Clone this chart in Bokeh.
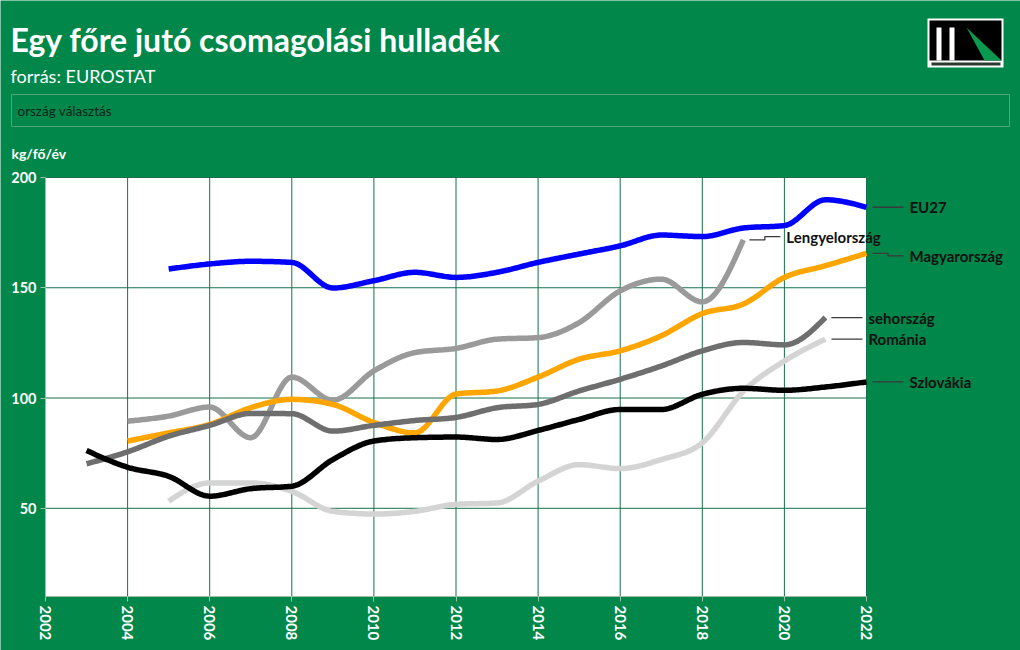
import numpy as np
from bokeh.plotting import figure
from bokeh.models import Range1d, FixedTicker
from bokeh.core.properties import value
from bokeh.embed import file_html
from bokeh.resources import INLINE

# ---------------- data ----------------
years_eu = list(range(2005, 2023))
eu27 = [158.5, 160.8, 162.0, 161.5, 149.9, 153.2, 157.0, 154.7, 157.0, 161.5, 165.3, 169.0, 173.9, 173.2, 177.1, 178.2, 189.9, 186.5]

years_pl = list(range(2004, 2020))
poland = [89.5, 91.8, 95.9, 82.0, 109.5, 99.0, 112.3, 120.6, 122.5, 126.7, 127.4, 134.2, 148.6, 153.9, 143.6, 171.7]

years_hu = list(range(2004, 2023))
hungary = [80.5, 84.2, 88.0, 95.6, 99.4, 97.1, 88.9, 84.2, 101.8, 103.2, 109.5, 117.6, 121.4, 128.2, 138.3, 142.6, 154.7, 160.0, 165.6]

years_cz = list(range(2003, 2022))
czechia = [70.2, 75.6, 82.7, 87.6, 93.0, 92.9, 85.0, 87.6, 89.8, 91.2, 95.6, 97.1, 103.2, 108.5, 114.5, 121.4, 125.2, 124.1, 136.5]

years_ro = list(range(2005, 2022))
romania = [53.2, 61.5, 61.5, 57.7, 48.6, 47.4, 48.6, 51.8, 52.4, 62.3, 69.8, 68.0, 72.1, 79.7, 103.0, 116.8, 126.7]

years_sk = list(range(2003, 2023))
slovakia = [76.2, 68.6, 64.5, 55.5, 58.9, 60.0, 72.1, 80.5, 82.0, 82.3, 81.2, 85.3, 90.3, 94.8, 94.8, 101.7, 104.4, 103.5, 105.0, 107.3]

series_names = ["EU27", "Lengyelország", "Magyarország", "sehország", "Románia", "Szlovákia"]
x_ticks = list(range(2002, 2023, 2))
y_ticks = [50, 100, 150, 200]

title_text = "Egy főre jutó csomagolási hulladék"
subtitle_text = "forrás: EUROSTAT"
dropdown_text = "ország választás"
unit_text = "kg/fő/év"

# ---------------- styles ----------------
GREEN = "#01874a"
FONT = "Lato"
series_style = [
    (years_eu, eu27, "#0000ff"),
    (years_pl, poland, "#9a9a9a"),
    (years_hu, hungary, "#ffa500"),
    (years_cz, czechia, "#6e6e6e"),
    (years_ro, romania, "#d4d4d4"),
    (years_sk, slovakia, "#000000"),
]
label_nudge = {"Lengyelország": 1.5, "Magyarország": -1.1}


def monotone(xs, ys, n=24):
    xs = np.asarray(xs, float)
    ys = np.asarray(ys, float)
    h = np.diff(xs)
    s = np.diff(ys) / h
    m = np.zeros(len(xs))
    for i in range(1, len(xs) - 1):
        p_ = (s[i - 1] * h[i] + s[i] * h[i - 1]) / (h[i - 1] + h[i])
        m[i] = (np.sign(s[i - 1]) + np.sign(s[i])) * min(abs(s[i - 1]), abs(s[i]), 0.5 * abs(p_))
    m[0] = (3 * s[0] - m[1]) / 2
    m[-1] = (3 * s[-1] - m[-2]) / 2
    out_x, out_y = [], []
    for i in range(len(xs) - 1):
        t = np.linspace(0, 1, n, endpoint=(i == len(xs) - 2))
        h00 = 2 * t**3 - 3 * t**2 + 1
        h10 = t**3 - 2 * t**2 + t
        h01 = -2 * t**3 + 3 * t**2
        h11 = t**3 - t**2
        out_x.extend(xs[i] + t * h[i])
        out_y.extend(h00 * ys[i] + h10 * h[i] * m[i] + h01 * ys[i + 1] + h11 * h[i] * m[i + 1])
    return out_x, out_y


# ---------------- figure (frame covers the whole canvas) ----------------
W, H = 1020, 650
LEFT, TOP, BOTTOM_PX = 45, 177, 596
X0, X1 = 2002, 2022
Y0, Y1 = 10, 200
PXX = 821 / (X1 - X0)                 # px per year
PXY = (BOTTOM_PX - TOP) / (Y1 - Y0)   # px per unit


def cx(px):
    return X0 + (px - LEFT) / PXX


def cy(py):
    return Y1 - (py - TOP) / PXY


p = figure(width=W, height=H, x_range=Range1d(cx(0), cx(W)), y_range=Range1d(cy(H), cy(0)),
           toolbar_location=None, output_backend="svg", min_border=0,
           min_border_left=0, min_border_right=0, min_border_top=0, min_border_bottom=0)
p.grid.visible = False
p.outline_line_color = None
p.background_fill_color = GREEN
p.border_fill_color = GREEN

# plot area
p.quad(left=[X0], right=[X1], bottom=[Y0], top=[Y1], fill_color="white", line_color=None)
p.segment(x0=x_ticks, x1=x_ticks, y0=[Y0] * len(x_ticks), y1=[Y1] * len(x_ticks),
          line_color="#17704c", line_width=1)
p.segment(x0=[X0] * len(y_ticks), x1=[X1] * len(y_ticks), y0=y_ticks, y1=y_ticks,
          line_color="#17704c", line_width=1)

for (xs, ys, col) in series_style:
    sx, sy = monotone(xs, ys)
    p.line(sx, sy, line_color=col, line_width=5.5, line_cap="butt", line_join="round")

# end labels
gap = 6 / PXX
seg = 31 / PXX
for name, (xs, ys, col) in zip(series_names, series_style):
    xl, yl = xs[-1], ys[-1]
    ylab = yl + label_nudge.get(name, 0)
    xa = xl + gap
    xb = xa + seg
    xm = (xa + xb) / 2
    p.line([xa, xm, xm, xb], [yl, yl, ylab, ylab], line_color="#3a3a3a", line_width=1.3)
    p.text(x=[xb + 6 / PXX], y=[ylab], text=[name], text_font=value(FONT),
           text_font_style="bold", text_font_size="15px", text_color="#111111",
           text_baseline="middle")

# axes, pinned to the plot area's edges
p.xaxis.ticker = FixedTicker(ticks=x_ticks)
p.xaxis.bounds = (X0, X1)
p.xaxis.fixed_location = Y0
p.xaxis.major_label_orientation = "vertical"
p.yaxis.ticker = FixedTicker(ticks=y_ticks)
p.yaxis.bounds = (Y0, Y1)
p.yaxis.fixed_location = X0
for ax in (p.xaxis[0], p.yaxis[0]):
    ax.axis_line_color = "#9bbfa9"
    ax.major_tick_line_color = "#9bbfa9"
    ax.major_tick_out = 5
    ax.major_tick_in = 0
    ax.minor_tick_line_color = None
    ax.major_label_text_color = "white"
    ax.major_label_text_font = FONT
    ax.major_label_text_font_style = "bold"
    ax.major_label_standoff = 4
p.yaxis.major_label_text_font_size = "14.5px"
p.xaxis.major_label_text_font_size = "15px"


# ---------------- header ----------------
def txt(px, py, text, size, bold=False, color="white"):
    p.text(x=[cx(px)], y=[cy(py)], text=[text], text_font=value(FONT), text_font_size=size,
           text_font_style="bold" if bold else "normal", text_color=color,
           text_baseline="middle")


def box(l, r, t, b, color, line=None):
    p.quad(left=[cx(l)], right=[cx(r)], top=[cy(t)], bottom=[cy(b)],
           fill_color=color, fill_alpha=1 if color else 0, line_color=line)


txt(10, 39, title_text, "32px", bold=True)
txt(10, 75, subtitle_text, "18px")
box(11, 1009, 94, 126, None, line="#4aa877")
txt(17, 110, dropdown_text, "13.5px", color="#13241a")
txt(11, 153, unit_text, "14px", bold=True)

# logo
box(927, 1003, 18, 67, "white")
box(929, 1001, 20, 60, "black")
box(936, 941, 27, 60, "white")
box(949, 954, 27, 60, "white")
p.patch(x=[cx(966), cx(984), cx(1001)], y=[cy(27), cy(60), cy(60)], fill_color="#0a9a4f", line_color=None)
box(931, 1000, 62, 65, "#2c3b30")

open("out.html", "w").write(file_html(p, INLINE))
